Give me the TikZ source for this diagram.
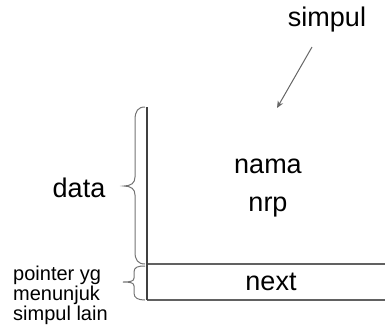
\documentclass[tikz,border=0pt]{standalone}
\usepackage{fontspec}
\setmainfont{Liberation Sans}
\usetikzlibrary{arrows.meta}
\begin{document}
\begin{tikzpicture}[x=1pt,y=-1pt,
  lbl/.style={anchor=base,inner sep=0pt,font=\fontsize{27}{31}\selectfont},
  small/.style={anchor=base west,inner sep=0pt,align=left,font=\fontsize{20}{18}\selectfont},
  frame/.style={draw=black!75,line width=2.4pt},
  hline/.style={draw=black!62,line width=2pt},
  bracepath/.style={draw=black!55,line width=1pt},
  ptr/.style={draw=black!60,line width=1pt,-{Stealth[length=7pt,width=6pt]}}]
\useasboundingbox (0,0) rectangle (385,325);
% texts
\node[lbl] (simpul) at (327,26) {simpul};
\node[lbl] (nama) at (268,173) {nama};
\node[lbl] (nrp) at (268,211) {nrp};
\node[lbl] (data) at (79,197) {data};
\node[lbl] (next) at (271,290) {next};
\node[small] (pointer) at (13,320) {pointer yg\\menunjuk\\simpul lain};
% frame
\coordinate (tl) at (147,107);
\coordinate (ml) at (147,264);
\coordinate (bl) at (147,300);
\coordinate (mr) at (385,264);
\coordinate (br) at (385,300);
\draw[hline] (ml) -- (mr);
\draw[hline] (bl) -- (br);
\draw[frame] (tl) -- (bl);
% braces
\draw[bracepath] (145,107) .. controls (138,107) and (135,111) .. (135,120)
  -- (135,177) .. controls (135,183) and (131,186) .. (124,186)
  .. controls (131,186) and (135,189) .. (135,195)
  -- (135,252) .. controls (135,260) and (138,264) .. (145,264);
\draw[bracepath] (145,266) .. controls (138,266) and (134,267) .. (134,272)
  -- (134,278) .. controls (134,281) and (131,282) .. (123,282)
  .. controls (131,282) and (134,283) .. (134,286)
  -- (134,293) .. controls (134,298) and (138,300) .. (145,300);
% arrow
\coordinate (astart) at (312,47);
\coordinate (aend) at (277,108);
\draw[ptr] (astart) -- (aend);
\end{tikzpicture}
\end{document}
